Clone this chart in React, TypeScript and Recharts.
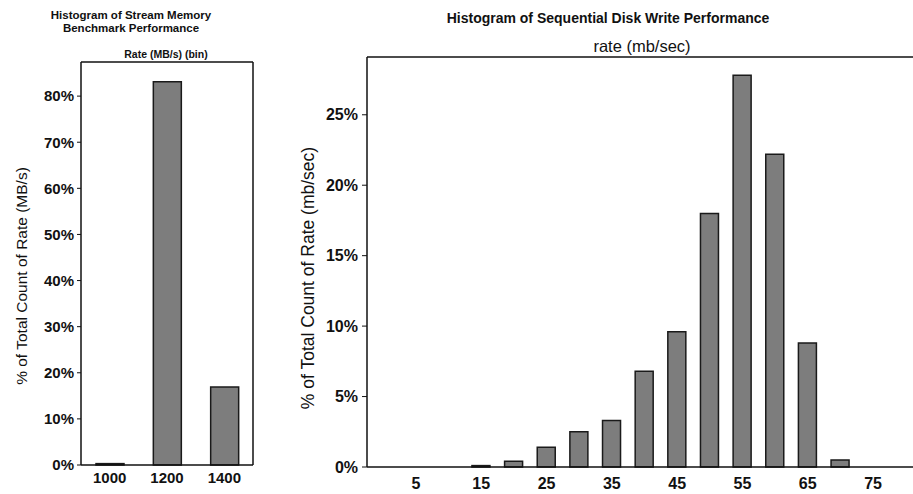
import React from "react";
import { Bar, BarChart, XAxis, YAxis } from "recharts";

// stream memory histogram (left)
const streamBins = ["1000", "1200", "1400"];
const streamPct = [0.3, 83.1, 16.9];
const streamTicks = [0, 10, 20, 30, 40, 50, 60, 70, 80];

// sequential disk write histogram (right)
const diskBins = ["0", "5", "10", "15", "20", "25", "30", "35", "40", "45", "50", "55", "60", "65", "70", "75", "80"];
const diskPct = [0, 0, 0, 0.1, 0.4, 1.4, 2.5, 3.3, 6.8, 9.6, 18.0, 27.8, 22.2, 8.8, 0.5, 0, 0];
const diskTicks = [0, 5, 10, 15, 20, 25];
const diskLabels = ["5", "15", "25", "35", "45", "55", "65", "75"];

const font = "'Liberation Sans', Arial, sans-serif";
const ink = "#111";
const barFill = "#7d7d7d";
const barStroke = "#1a1a1a";

const pct = (v: number) => `${v}%`;

function Txt({ x, y, size, bold, rotate, children }: any) {
  return (
    <div
      style={{
        position: "absolute",
        left: x,
        top: y,
        transform: `translate(-50%, -50%)${rotate ? " rotate(-90deg)" : ""}`,
        whiteSpace: "nowrap",
        fontFamily: font,
        fontSize: size,
        fontWeight: bold ? 700 : 400,
        color: ink,
        lineHeight: 1,
      }}
    >
      {children}
    </div>
  );
}

export default function App() {
  const streamData = streamBins.map((bin, i) => ({ bin, pct: streamPct[i] }));
  const diskData = diskBins.map((bin, i) => ({ bin, pct: diskPct[i] }));

  return (
    <div
      style={{
        position: "fixed",
        left: 0,
        top: 0,
        width: 913,
        height: 494,
        overflow: "hidden",
        background: "#fff",
      }}
    >
      <Txt x={131} y={16} size={11.5} bold>
        Histogram of Stream Memory
      </Txt>
      <Txt x={131} y={29} size={11.5} bold>
        Benchmark Performance
      </Txt>
      <Txt x={166} y={54} size={10.5} bold>
        Rate (MB/s) (bin)
      </Txt>
      <Txt x={22} y={276} size={15.5} rotate>
        % of Total Count of Rate (MB/s)
      </Txt>

      <Txt x={608} y={18} size={14} bold>
        Histogram of Sequential Disk Write Performance
      </Txt>
      <Txt x={642} y={46} size={16.5}>
        rate (mb/sec)
      </Txt>
      <Txt x={309} y={278} size={17.5} rotate>
        % of Total Count of Rate (mb/sec)
      </Txt>

      <div style={{ position: "absolute", left: 0, top: 0 }}>
        <BarChart
          width={260}
          height={494}
          data={streamData}
          margin={{ top: 61, right: 6, bottom: 4, left: 0 }}
          barSize={28}
        >
          <XAxis
            xAxisId="top"
            orientation="top"
            dataKey="bin"
            height={1}
            tick={false}
            tickLine={false}
            axisLine={{ stroke: ink, strokeWidth: 1.5 }}
          />
          <XAxis
            dataKey="bin"
            height={25}
            tickLine={false}
            tickSize={4}
            tickMargin={3}
            axisLine={{ stroke: ink, strokeWidth: 1.5 }}
            tick={{ fill: ink, fontSize: 15, fontWeight: 700, fontFamily: font }}
          />
          <YAxis
            width={81}
            domain={[0, 87.4]}
            ticks={streamTicks}
            tickFormatter={pct}
            tickSize={4}
            tickMargin={3}
            axisLine={{ stroke: ink, strokeWidth: 1.5 }}
            tickLine={{ stroke: ink }}
            tick={{ fill: ink, fontSize: 15, fontWeight: 700, fontFamily: font }}
          />
          <YAxis
            yAxisId="right"
            orientation="right"
            width={1}
            domain={[0, 87.4]}
            tick={false}
            tickLine={false}
            axisLine={{ stroke: ink, strokeWidth: 1.5 }}
          />
          <Bar dataKey="pct" fill={barFill} stroke={barStroke} strokeWidth={1.5} isAnimationActive={false} />
        </BarChart>
      </div>

      <div style={{ position: "absolute", left: 260, top: 0 }}>
        <BarChart
          width={664}
          height={494}
          data={diskData}
          margin={{ top: 56, right: 2, bottom: 3, left: 0 }}
          barSize={18}
        >
          <XAxis
            xAxisId="top"
            orientation="top"
            dataKey="bin"
            height={1}
            tick={false}
            tickLine={false}
            axisLine={{ stroke: ink, strokeWidth: 1.5 }}
          />
          <XAxis
            dataKey="bin"
            height={24}
            interval={0}
            tickLine={false}
            tickSize={5}
            tickMargin={6}
            tickFormatter={(v: string) => (diskLabels.includes(v) ? v : "")}
            axisLine={{ stroke: ink, strokeWidth: 1.5 }}
            tick={{ fill: ink, fontSize: 16, fontWeight: 700, fontFamily: font }}
          />
          <YAxis
            width={107}
            domain={[0, 29.1]}
            ticks={diskTicks}
            tickFormatter={pct}
            tickSize={5}
            tickMargin={4}
            axisLine={{ stroke: ink, strokeWidth: 1.5 }}
            tickLine={{ stroke: ink }}
            tick={{ fill: ink, fontSize: 16, fontWeight: 700, fontFamily: font }}
          />
          <Bar dataKey="pct" fill={barFill} stroke={barStroke} strokeWidth={1.5} isAnimationActive={false} />
        </BarChart>
      </div>
    </div>
  );
}
